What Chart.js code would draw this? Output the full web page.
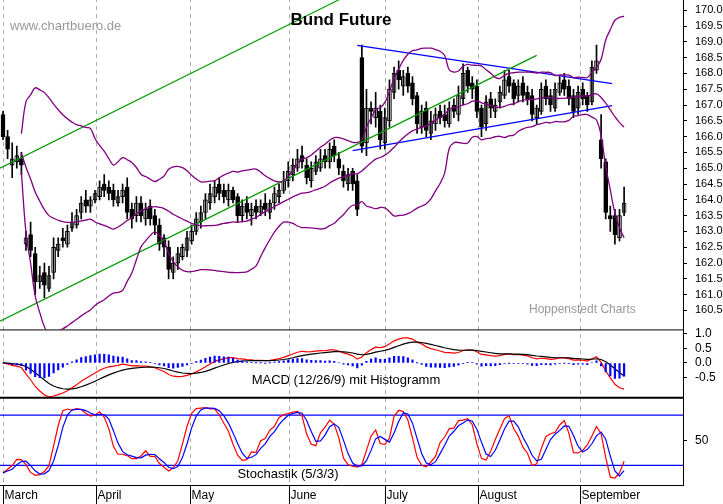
<!DOCTYPE html>
<html><head><meta charset="utf-8">
<script src="https://cdn.jsdelivr.net/npm/chart.js@4"></script>
<style>html,body{margin:0;padding:0;background:#fff}#w{position:relative;width:723px;height:504px;overflow:hidden}#c{position:absolute;left:0;top:-17px}</style>
</head><body><div id="w"><canvas id="c" width="723" height="521"></canvas></div>
<script>
const closes=[166.0,165.6,165.3,165.4,165.1,162.8,162.4,161.4,161.6,161.3,
161.6,162.5,162.6,162.7,163.0,163.3,163.5,163.9,163.8,164.0,
164.2,164.4,164.3,164.2,164.0,164.1,164.3,163.6,163.4,163.9,
163.5,163.7,163.4,163.2,162.6,162.5,161.8,162.0,162.3,162.5,
162.8,163.0,163.4,163.6,164.0,164.2,164.4,164.2,164.1,164.3,
164.0,163.5,163.8,163.6,163.7,163.6,163.8,163.7,163.9,164.2,
164.3,164.6,164.9,165.1,165.3,165.2,164.7,165.0,165.2,165.3,
165.2,165.6,165.4,165.0,164.6,164.8,164.5,163.7,165.7,166.9,
166.8,166.9,165.9,166.6,167.5,168.0,167.8,167.9,167.6,167.2,
166.4,166.8,166.2,166.5,166.7,166.6,166.5,166.9,166.8,167.3,
168.0,167.6,167.5,166.8,166.3,167.1,166.9,167.0,167.4,167.8,
167.6,167.2,167.6,167.3,167.2,166.7,166.9,167.5,167.2,167.0,
167.5,167.7,167.5,167.2,166.8,167.4,167.2,167.0,168.2,168.4,
165.3,163.6,163.4,162.9,163.5,163.9];
const opens=[166.7,166.0,165.1,165.2,165.3,162.6,162.9,162.3,161.4,161.7,
161.2,161.7,162.4,162.8,162.6,163.1,163.2,163.6,164.0,163.8,
164.0,164.1,164.5,164.4,164.3,163.9,164.1,164.4,163.7,163.5,
163.9,163.4,163.8,163.5,163.2,162.8,162.5,161.7,162.0,162.2,
162.4,162.7,163.0,163.3,163.6,163.9,164.1,164.5,164.3,164.0,
164.3,164.1,163.5,163.9,163.5,163.8,163.6,163.9,163.6,163.9,
164.1,164.3,164.6,164.8,165.0,165.4,165.1,164.6,164.9,165.0,
165.4,165.2,165.7,165.3,164.9,164.5,164.9,164.6,168.5,165.8,
166.9,166.6,166.8,165.8,166.5,167.4,168.1,167.6,168.0,167.7,
167.3,166.3,166.9,166.1,166.4,166.8,166.7,166.4,167.0,166.7,
167.2,168.1,167.7,167.6,166.9,166.4,167.2,166.8,167.1,167.3,
167.9,167.7,167.3,167.7,167.4,167.3,166.6,166.8,167.6,167.3,
166.9,167.4,167.8,167.6,167.3,166.9,167.5,167.3,167.1,168.1,
165.9,165.2,163.5,163.5,162.8,163.6];
const highs=[166.8,166.2,165.8,165.7,165.5,163.0,163.3,162.5,161.9,162.0,
161.9,162.8,162.8,163.1,163.2,163.6,163.7,164.1,164.3,164.1,
164.3,164.6,164.8,164.6,164.5,164.3,164.5,164.7,163.9,164.1,
164.1,163.9,164.0,163.7,163.4,162.9,162.7,162.2,162.5,162.6,
163.0,163.2,163.6,163.8,164.2,164.5,164.6,164.7,164.5,164.5,
164.4,164.2,164.0,164.1,163.9,164.0,164.0,164.2,164.0,164.4,
164.5,164.9,165.2,165.3,165.6,165.7,165.3,165.2,165.4,165.6,
165.6,165.8,165.9,165.5,165.1,165.0,165.0,164.8,168.9,167.5,
167.1,167.4,167.0,166.9,167.8,168.2,168.4,168.1,168.2,167.9,
167.4,167.0,167.1,166.8,166.9,167.0,167.0,167.1,167.2,167.6,
168.3,168.2,167.9,167.8,167.0,167.3,167.4,167.2,167.6,168.1,
168.1,167.8,167.8,167.9,167.6,167.5,167.0,167.7,167.8,167.5,
167.7,167.9,168.0,167.8,167.5,167.6,167.7,167.4,168.4,168.9,
166.7,165.3,163.8,163.7,163.7,164.4];
const lows=[165.9,165.3,164.7,165.0,164.8,162.4,162.2,161.0,161.2,160.9,
161.1,161.5,162.2,162.5,162.5,163.0,163.1,163.4,163.6,163.6,
163.9,164.0,164.1,164.0,163.8,163.8,163.9,163.4,163.1,163.3,
163.3,163.2,163.2,162.9,162.4,162.2,161.5,161.5,161.8,162.1,
162.2,162.6,162.9,163.1,163.4,163.7,163.9,164.0,163.9,163.8,
163.9,163.3,163.3,163.4,163.2,163.4,163.5,163.5,163.4,163.7,
163.9,164.2,164.4,164.6,164.9,165.0,164.5,164.4,164.8,164.9,
165.0,165.0,165.2,164.8,164.4,164.3,164.3,163.5,165.5,165.4,
166.4,166.3,165.6,165.6,166.3,167.2,167.5,167.3,167.4,167.0,
166.1,166.1,166.0,165.9,166.2,166.4,166.3,166.3,166.6,166.5,
167.0,167.4,167.2,166.6,166.0,166.2,166.6,166.6,166.9,167.2,
167.4,167.0,167.1,167.1,167.0,166.5,166.4,166.7,167.0,166.8,
166.8,167.3,167.3,167.0,166.6,166.7,167.0,166.8,167.0,168.0,
165.0,163.4,163.0,162.6,162.7,163.5];
const monthNames=['March','April','May','June','July','August','September'];
const monthStart=[0,20.2,40.6,62.2,83,103.3,125.4];
const trendGreenUpper=[{x:-0.65,y:165.0},{x:74,y:170.4}];
const trendGreenLower=[{x:-0.65,y:160.16},{x:116,y:168.57}];
const triUpper=[{x:77,y:168.89},{x:132.4,y:167.68}];
const triLower=[{x:76,y:165.56},{x:132.4,y:166.98}];

// indicators derived from the OHLC data
const N=closes.length;
const bbU=[],bbL=[],bbM=[];
for(let i=0;i<N;i++){if(i<4)continue;const s=closes.slice(Math.max(0,i-19),i+1);const m=s.reduce((a,b)=>a+b)/s.length;const sd=Math.sqrt(s.reduce((a,b)=>a+(b-m)**2,0)/s.length);bbM.push({x:i,y:m});bbU.push({x:i,y:m+2*sd});bbL.push({x:i,y:m-2*sd});}
function ema(a,p){const k=2/(p+1);const r=[];a.forEach((v,i)=>r.push(i?v*k+r[i-1]*(1-k):v));return r;}
const e12=ema(closes,12),e26=ema(closes,26);const macd=e12.map((v,i)=>v-e26[i]);const sig=ema(macd,9);
const macdPts=macd.map((v,i)=>({x:i,y:v})),sigPts=sig.map((v,i)=>({x:i,y:v})),histPts=macd.map((v,i)=>({x:i,y:[0,v-sig[i]]}));
const raw=closes.map((c,i)=>{const lo=Math.min(...lows.slice(Math.max(0,i-4),i+1)),hi=Math.max(...highs.slice(Math.max(0,i-4),i+1));return hi>lo?(c-lo)/(hi-lo)*100:50;});
function sma(a,p){return a.map((v,i)=>{const s=a.slice(Math.max(0,i-p+1),i+1);return s.reduce((x,y)=>x+y)/s.length;});}
const kS=sma(raw,3),dS=sma(kS,3);
const kPts=kS.map((v,i)=>({x:i,y:v})),dPts=dS.map((v,i)=>({x:i,y:v}));

const wick=closes.map((c,i)=>({x:i,y:[lows[i],highs[i]]}));
const body=closes.map((c,i)=>({x:i,y:[opens[i],c===opens[i]?c+0.03:c]}));
const bodyCol=closes.map((c,i)=>c>=opens[i]?'#ffffff':'#000000');
const F='"Liberation Sans", Arial, sans-serif';
const OY=17;
const line=(data,color,axis,w,extra)=>Object.assign({type:'line',data,borderColor:color,borderWidth:w||1,pointRadius:0,fill:false,yAxisID:axis,tension:0},extra||{});

const deco={id:'deco',
 beforeDatasetsDraw(ch){const c=ch.ctx,a=ch.chartArea,x=ch.scales.x;c.save();c.strokeStyle='#aaa';c.setLineDash([4,4]);c.lineWidth=1;
  monthStart.forEach(m=>{const px=Math.round(x.getPixelForValue(m))+0.5;c.beginPath();c.moveTo(px,a.top);c.lineTo(px,a.bottom);c.stroke();});
  c.setLineDash([]);const s=ch.scales.s;c.strokeStyle='#0000ff';c.lineWidth=1.2;[80,20].forEach(v=>{const py=s.getPixelForValue(v);c.beginPath();c.moveTo(a.left,py);c.lineTo(a.right,py);c.stroke();});c.restore();},
 afterDraw(ch){const c=ch.ctx,a=ch.chartArea,x=ch.scales.x;c.save();
  c.strokeStyle='#000';c.lineWidth=1;const y1=ch.scales.y.bottom;c.beginPath();c.moveTo(0,y1+0.5);c.lineTo(a.right,y1+0.5);c.stroke();
  c.lineWidth=2;const y2=ch.scales.m.bottom;c.beginPath();c.moveTo(0,y2);c.lineTo(a.right,y2);c.stroke();
  c.lineWidth=1;c.beginPath();c.moveTo(0,a.bottom+0.5);c.lineTo(a.right,a.bottom+0.5);c.stroke();
  c.fillStyle='#000';c.font='12px '+F;c.textBaseline='middle';
  monthStart.forEach((m,i)=>{const px=Math.round(x.getPixelForValue(m))+0.5;c.beginPath();c.moveTo(px,a.bottom);c.lineTo(px,521);c.stroke();c.fillText(monthNames[i],px+1,a.bottom+11);});
  c.font='bold 17px '+F;c.textAlign='center';c.fillText('Bund Future',341,20+OY);
  c.font='13px '+F;c.fillStyle='#999';c.textAlign='left';c.fillText('www.chartbuero.de',10,26+OY);
  c.font='12px '+F;c.fillText('Hoppenstedt Charts',529,310+OY);
  c.fillStyle='#000';c.font='13px '+F;c.textAlign='center';c.fillText('MACD (12/26/9) mit Histogramm',346,380+OY);c.fillText('Stochastik (5/3/3)',288,474+OY);
  c.restore();}};
const yax=(o)=>Object.assign({type:'linear',position:'right',stack:'p',border:{color:'#000'},grid:{drawOnChartArea:false,color:'#000',tickLength:4},afterFit(s){s.width=40;}},o);
const tk=(size,cb)=>({color:'#000',font:{size,family:F},padding:8,autoSkip:false,callback:cb});
new Chart(document.getElementById('c'),{
 data:{datasets:[
  line(bbU,'#800080','y',1.3,{tension:0.4}),line(bbL,'#800080','y',1.3,{tension:0.4}),line(bbM,'#800080','y',1.3,{tension:0.4}),
  line(trendGreenUpper,'#009900','y',1.2),line(trendGreenLower,'#009900','y',1.2),
  line(triUpper,'#0000ff','y',1.3),line(triLower,'#0000ff','y',1.3),
  {type:'bar',data:wick,backgroundColor:'#000',barThickness:1,yAxisID:'y',grouped:false},
  {type:'bar',data:body,backgroundColor:bodyCol,borderColor:'#000',borderWidth:1,borderSkipped:false,barThickness:4,yAxisID:'y',grouped:false},
  {type:'bar',data:histPts,backgroundColor:'#0000ff',barThickness:1.5,yAxisID:'m',grouped:false},
  line(sigPts,'#000','m',1.2),line(macdPts,'#ff0000','m',1.2),
  line(dPts,'#0000ff','s',1.2),line(kPts,'#ff0000','s',1.2)
 ]},
 options:{responsive:false,animation:false,devicePixelRatio:1,layout:{padding:0},
  plugins:{legend:{display:false},tooltip:{enabled:false}},
  scales:{
   x:{type:'linear',offset:false,min:-0.65,max:147.8,grid:{display:false,offset:false},border:{display:false},ticks:{display:false},afterFit(s){s.height=19;}},
   y:yax({min:159.9,max:170.38,stackWeight:330,afterBuildTicks(s){const t=[];for(let v=160.5;v<=170.01;v+=0.5)t.push({value:+v.toFixed(1)});s.ticks=t;},ticks:tk(11,v=>v.toFixed(1))}),
   m:yax({min:-1.18,max:1.14,stackWeight:68,afterBuildTicks(s){s.ticks=[1,0.5,0,-0.5].map(v=>({value:v}));},ticks:tk(12,v=>v.toFixed(1))}),
   s:yax({min:-3.3,max:100.8,stackWeight:87,afterBuildTicks(s){s.ticks=[50].map(v=>({value:v}));},ticks:tk(12,v=>v)})
  }},
 plugins:[deco]});
</script></body></html>
